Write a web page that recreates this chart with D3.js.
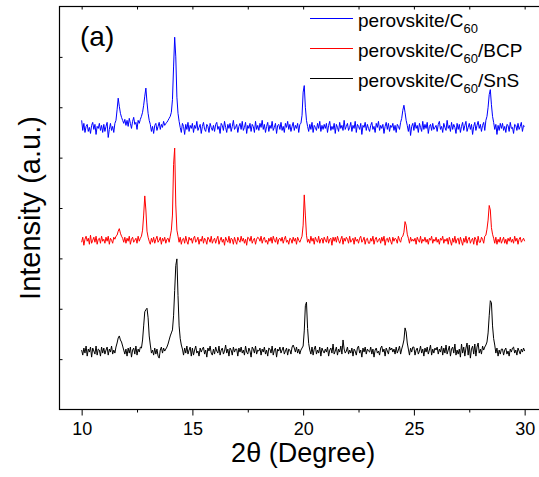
<!DOCTYPE html>
<html>
<head>
<meta charset="utf-8">
<script src="https://cdn.jsdelivr.net/npm/d3@7/dist/d3.min.js"></script>
<style>
    body { margin: 0; background: #fff; }
    text { font-family: "Liberation Sans", Arial, sans-serif; fill: #000; }
    .frame { fill: none; stroke: #000; stroke-width: 1.2; }
    .axis path { display: none; }
    .axis line { stroke: #000; stroke-width: 1; }
    .trace { fill: none; stroke-width: 1; stroke-linejoin: round; }
</style>
</head>
<body>
<script>
(function(){
    //scan grid: first angle and step, in degrees 2theta
    var angleStart = 10,
        angleStep = 0.05;

    //series names and colours (legend order)
    var seriesNames = ["perovskite/C60", "perovskite/C60/BCP", "perovskite/C60/SnS"];
    var seriesColors = ["#0000ff", "#ff0000", "#000000"];

    //vertical offset of each stacked trace (a.u.)
    var seriesOffsets = [560, 336, 116];

    //intensity above offset, one value per 0.05 deg from 10.00 to 30.00 (one row per degree)
    var c60Counts = [
        14, -6, 8, -10, 2, 6, -8, 0, -12, 4, 10, -4, 6, -14, 2, -2, 8, -6, 4, -10,
        6, -8, 2, 10, -20, -4, 8, -6, 2, -10, 8, 14, 35, 58, 42, 28, 20, 14, 8, 16,
        4, 14, 2, 18, 8, -2, 12, 20, 6, 10, -4, 14, 8, 16, 22, 30, 44, 62, 78, 50,
        28, 14, 6, -8, 2, -12, 4, 8, -6, 2, 10, -4, 6, 0, 12, 4, 8, 10, 14, 18,
        22, 30, 55, 120, 179, 140, 60, 28, 12, 0, -10, 8, 2, -14, 6, -4, 10, -8, 4, -2,
        8, -10, 4, -2, 12, -6, 0, 6, -12, 2, 10, -4, -8, 6, 2, -10, 8, 0, -6, 4,
        -8, 6, 10, -4, 2, -12, 8, 4, -6, 12, 0, -10, 6, -2, 8, -8, 2, 14, -4, 0,
        6, -10, 2, 8, -4, 12, -6, 0, 10, -12, 4, -2, 8, -8, 6, 2, -10, 12, -4, 4,
        -6, 8, 0, 14, -4, 6, -10, 2, 10, -8, 4, -2, 12, -6, 0, 8, -12, 4, 6, -4,
        10, -6, 2, -10, 8, 0, 12, -4, 6, -8, 2, 10, -6, 4, -2, 8, -10, 6, 8, 24,
        70, 83, 40, 14, 2, -8, 6, -4, 10, -10, 4, 0, -6, 8, -2, 12, -8, 4, -4, 6,
        -2, 8, -10, 4, 12, -6, 2, -4, 8, -12, 6, 0, -8, 10, -2, 4, -6, 14, -4, 2,
        8, -6, 0, 10, -8, 4, -2, 12, -10, 6, 2, -4, 8, -14, 4, 0, 10, -6, 6, -2,
        -8, 4, 10, -4, 2, -10, 8, 0, 12, -6, 4, -2, 6, -12, 2, 10, -4, 8, -8, 4,
        0, 8, -6, 4, -10, 6, 2, -4, 10, 18, 34, 44, 30, 14, 4, -8, 6, -16, 2, 8,
        -6, 10, -2, 4, -10, 8, 0, -8, 12, -4, 6, -2, 10, -12, 2, 6, -6, 8, -4, 0,
        4, -8, 6, 12, -4, 2, -10, 8, 0, -6, 14, -2, 4, -8, 10, -4, 6, 0, -12, 8,
        -4, 6, -10, 2, 10, -6, 4, 12, -8, 0, 8, -4, 6, -14, 2, 10, -6, 4, 12, -2,
        6, -8, 4, 10, -6, 14, 22, 40, 65, 75, 45, 22, 10, -4, 6, -14, 4, -6, 8, -2,
        8, -6, 2, -10, 6, 4, -8, 10, -2, 0, -12, 6, 4, -6, 8, -4, 2, 10, -8, 4,
        2
    ];
    var bcpCounts = [
        -4, 6, -10, 2, 8, -2, 4, -8, 10, -6, 0, 6, -4, 8, -8, 2, 4, -6, 8, -2,
        2, -6, 6, -2, 8, -8, 4, 0, -6, 6, 2, 8, 10, 18, 23, 14, 8, 4, -4, 6,
        -6, 4, -2, 8, -8, 2, 6, -4, 0, 4, -6, 8, -2, 4, 8, 20, 50, 88, 60, 18,
        6, -2, -8, 4, -4, 6, -6, 2, 8, -4, 0, 6, -8, 4, -2, 6, -6, 2, 4, -4,
        8, 20, 50, 150, 183, 70, 20, 8, -4, 6, -8, 2, 4, -6, 8, -2, -8, 6, 0, 4,
        -6, 4, 8, -4, 0, 6, -8, 2, -2, 8, -6, 4, 0, -8, 6, 2, -4, 8, -6, 0,
        4, -6, 2, 8, -8, 0, 6, -4, 2, -10, 6, 0, -4, 8, -6, 4, 2, -8, 6, -2,
        -8, 6, 0, -4, 8, -2, 4, -6, 2, -10, 6, 4, -2, 8, -6, 0, 4, -8, 2, 6,
        4, -2, 8, -6, 2, 6, -4, 0, -8, 4, -2, 6, -6, 8, 0, -4, 6, -8, 2, 4,
        -2, 6, -6, 2, 8, -4, 0, -8, 4, 2, -6, 6, -2, 4, -8, 6, 0, -4, 2, 8,
        30, 90, 50, 10, -4, 2, -6, 8, -2, 4, -8, 6, 0, -4, 8, -6, 2, 4, -6, 6,
        0, -4, 8, -6, 2, 4, -10, 6, -2, 6, -4, 8, 0, -6, 2, 8, -8, 4, -2, 6,
        2, -6, 8, -4, 0, 4, -8, 6, -2, 2, -6, 4, 8, -4, 0, 6, -8, 2, 4, -6,
        -6, 4, -2, 8, -8, 2, 6, -4, 0, 4, -6, 6, -2, 8, -10, 2, 4, -4, 6, -2,
        -8, 6, -2, 4, 2, -6, 8, 0, -4, 6, 8, 16, 37, 30, 12, 4, -6, 6, -2, 2,
        -2, 4, -8, 6, 0, -4, 8, -6, 2, -2, 6, -4, 2, -8, 4, 0, 8, -6, 2, -2,
        6, -4, 2, -8, 4, 0, 8, -6, 2, -2, 4, -8, 6, -2, -10, 4, -4, 8, -6, 2,
        4, -8, 6, -2, -10, 4, -4, 8, -6, 2, 6, -6, 0, 4, -8, 6, 2, -10, 8, -4,
        -4, 6, 2, -6, 8, 10, 22, 40, 69, 60, 25, 12, 4, -6, 6, -8, 2, -4, 6, -6,
        0, 6, -6, 2, -8, 4, -2, 6, -4, 2, -6, 8, -2, 4, -8, 2, 6, -4, 0, 4,
        -2
    ];
    var snsCounts = [
        2, -8, 6, -4, 10, -10, 4, -2, 8, -12, 6, 0, -6, 10, -8, 4, 2, -10, 8, -4,
        6, -6, 2, 8, -8, 4, -2, 10, -6, 2, -4, 8, 16, 26, 30, 22, 18, 10, 2, -6,
        4, -10, 6, -4, 8, -12, 2, 6, -6, 10, -8, 4, -2, 8, 6, 22, 50, 78, 82, 85,
        66, 30, 12, -4, 2, -8, 6, -6, 4, -10, -14, 2, 8, -4, 6, 0, 4, 8, 14, 22,
        30, 36, 42, 70, 120, 170, 183, 110, 50, 25, 12, 4, -8, 6, -4, 10, -6, 2, 8, -10,
        6, -8, 2, 10, -4, 0, -10, 6, -2, 4, 8, -6, 2, -12, 6, 0, 10, -4, -8, 4,
        -6, 8, 0, -4, 10, -8, 2, 6, -6, 0, 12, -4, 4, -10, 6, 2, -8, 8, -2, 4,
        4, -10, 6, -2, 8, -4, 2, -8, 10, -2, -6, 6, 0, -12, 8, 4, -4, 10, -6, 2,
        0, 6, -8, 4, -2, 8, -6, 2, -10, 6, 4, -4, 10, -8, 2, 6, -12, 4, 0, 8,
        -4, 2, 8, -6, 0, 6, -8, 4, 2, -6, 8, 12, 6, -2, 8, -4, 4, -6, 2, 6,
        10, 40, 90, 97, 45, 15, 2, -6, 8, -8, 4, 10, -6, 2, -4, 8, -10, 6, 0, -4,
        4, -2, 8, -10, 2, 6, -4, 14, -6, 0, 8, -8, 4, -2, 10, -6, 22, 4, -4, 0,
        8, -6, 2, -4, 6, -10, 4, 0, -8, 6, 10, -4, 2, -12, 6, -2, 8, -6, 4, 0,
        -2, 8, -6, 4, -12, 2, 6, -4, 0, -8, 6, 10, -2, 4, -10, 6, 0, -6, 8, 2,
        6, -2, 4, -6, 8, -4, 2, 10, -6, 4, 12, 22, 46, 38, 16, 4, -8, 6, -2, 8,
        8, -8, 2, 6, -6, 0, 10, -4, 4, -10, 6, -2, 8, -6, 2, 12, -8, 4, -4, 6,
        2, 8, -6, 4, -2, 10, -8, 6, -4, 12, -6, 2, 10, -10, 4, 8, -4, 14, -8, 2,
        -6, 4, -12, 14, -4, 8, -10, 6, 16, -8, 12, -14, 4, 10, -6, 14, -10, 8, 16, -4,
        4, -6, 10, 2, 8, 12, 18, 36, 70, 100, 96, 50, 25, 12, -4, 6, -10, 2, -6, 4,
        4, -8, 2, 6, -6, 0, -10, 4, -2, 6, 8, -4, 2, -8, 6, 0, -6, 4, -2, 6,
        0
    ];
    var seriesCounts = [c60Counts, bcpCounts, snsCounts];

    //axis ticks
    var xMajorTicks = [10, 15, 20, 25, 30];
    var xMinorTicks = [12.5, 17.5, 22.5, 27.5];
    var yTicks = [100, 200, 300, 400, 500, 600, 700];

    //chart frame dimensions
    var width = 539,
        height = 477,
        plotLeft = 59.5,
        plotTop = 6.5,
        plotBottom = 409.5,
        plotRight = 546.8;

    var svg = d3.select("body")
        .append("svg")
        .attr("width", width)
        .attr("height", height);

    var x = d3.scaleLinear()
        .domain([9, 31])
        .range([plotLeft, plotRight]);

    var y = d3.scaleLinear()
        .domain([0, 800])
        .range([plotBottom, plotTop]);

    //traces
    seriesCounts.forEach(function(counts, s){
        var line = d3.line()
            .x(function(d, i){ return x(angleStart + i * angleStep); })
            .y(function(d){ return y(d + seriesOffsets[s]); });

        svg.append("path")
            .datum(counts)
            .attr("class", "trace")
            .attr("stroke", seriesColors[s])
            .attr("d", line);
    });

    //bottom axis, outward ticks with labels
    svg.append("g")
        .attr("class", "axis")
        .attr("transform", "translate(0," + plotBottom + ")")
        .call(d3.axisBottom(x).tickValues(xMajorTicks).tickSize(6).tickPadding(7)
            .tickFormat(d3.format("d")))
        .selectAll("text")
        .style("font-size", "18px");

    svg.append("g")
        .attr("class", "axis")
        .attr("transform", "translate(0," + plotBottom + ")")
        .call(d3.axisBottom(x).tickValues(xMinorTicks).tickSize(3).tickFormat(""));

    //top axis, inward ticks
    svg.append("g")
        .attr("class", "axis")
        .attr("transform", "translate(0," + plotTop + ")")
        .call(d3.axisTop(x).tickValues(xMajorTicks.concat(xMinorTicks)).tickSize(-3).tickFormat(""));

    //left axis, inward ticks, no labels
    svg.append("g")
        .attr("class", "axis")
        .attr("transform", "translate(" + plotLeft + ",0)")
        .call(d3.axisLeft(y).tickValues(yTicks).tickSize(-3).tickFormat(""));

    //plot frame
    svg.append("rect")
        .attr("class", "frame")
        .attr("x", plotLeft)
        .attr("y", plotTop)
        .attr("width", plotRight - plotLeft)
        .attr("height", plotBottom - plotTop);

    //axis titles
    svg.append("text")
        .attr("x", x(20))
        .attr("y", 462)
        .attr("text-anchor", "middle")
        .style("font-size", "27px")
        .text("2\u03b8 (Degree)");

    svg.append("text")
        .attr("transform", "translate(40," + ((plotTop + plotBottom) / 2) + ") rotate(-90)")
        .attr("text-anchor", "middle")
        .style("font-size", "29px")
        .text("Intensity (a.u.)");

    //panel label
    svg.append("text")
        .attr("x", 80)
        .attr("y", 46)
        .style("font-size", "28px")
        .text("(a)");

    //legend
    var legend = svg.append("g")
        .attr("transform", "translate(310,18.5)");

    seriesNames.forEach(function(name, s){
        var row = legend.append("g")
            .attr("transform", "translate(0," + s * 30 + ")");

        row.append("line")
            .attr("x1", 0)
            .attr("x2", 43)
            .attr("stroke", seriesColors[s])
            .attr("stroke-width", 1);

        var parts = name.split("60");
        var label = row.append("text")
            .attr("x", 48)
            .attr("y", 8)
            .style("font-size", "19px");
        label.append("tspan").text(parts[0]);
        label.append("tspan")
            .attr("dy", 6)
            .style("font-size", "13px")
            .text("60");
        if (parts[1]) {
            label.append("tspan")
                .attr("dy", -6)
                .text(parts[1]);
        }
    });
})();
</script>
</body>
</html>
